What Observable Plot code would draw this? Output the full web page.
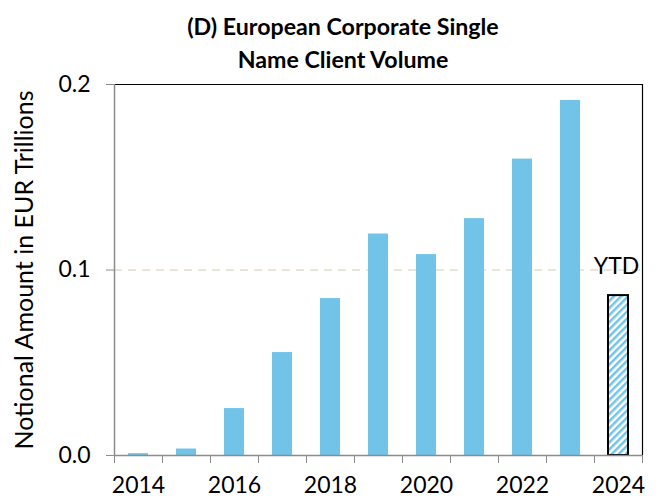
<!DOCTYPE html>
<html><head><meta charset="utf-8">
<script src="https://cdn.jsdelivr.net/npm/d3@7"></script>
<script src="https://cdn.jsdelivr.net/npm/@observablehq/plot@0.6"></script>
<style>
body{margin:0;background:#fff;font-family:Lato,sans-serif;}
#title{height:60px;width:660px;box-sizing:border-box;padding-top:10px;padding-left:26px;text-align:center;font-weight:bold;font-size:23.2px;line-height:33px;color:#000;white-space:nowrap;overflow:visible;position:relative;z-index:1;}
#chart{position:relative;}
</style></head><body>
<div id="title">(D) European Corporate Single<br>Name Client Volume</div>
<div id="chart"></div>
<script>
const years = [2014, 2015, 2016, 2017, 2018, 2019, 2020, 2021, 2022, 2023];
const volumes = [0.001, 0.0035, 0.0253, 0.0555, 0.0846, 0.1194, 0.1083, 0.1277, 0.1598, 0.1914];
const ytdYears = [2024];
const ytdVolumes = [0.0862];
const ytdLabel = "YTD";
const yTicks = [0, 0.1, 0.2];
const xLabelYears = [2014, 2016, 2018, 2020, 2022, 2024];
const yLabel = "Notional Amount in EUR Trillions";

const data = years.map((y, i) => ({year: y, value: volumes[i]}));
const ytd = ytdYears.map((y, i) => ({year: y, value: ytdVolumes[i], label: ytdLabel}));
const xBounds = d3.range(years[0], ytdYears[ytdYears.length - 1] + 2);
const barColor = "#71c4e8";
const axisGray = "#8c8c8c";

const svg = Plot.plot({
  width: 660,
  height: 444,
  marginTop: 24,
  marginLeft: 114,
  marginRight: 18,
  marginBottom: 49,
  style: {fontFamily: "Lato, sans-serif", fontSize: "23px", color: "#000", background: "transparent", overflow: "visible"},
  x: {type: "linear", domain: [xBounds[0], xBounds[xBounds.length - 1]]},
  y: {domain: [0, 0.2]},
  marks: [
    Plot.ruleY([0.1], {stroke: "#e3ddcc", strokeDasharray: "8,6", strokeWidth: 1.5}),
    Plot.rectY(data, {x: "year", interval: 1, y: "value", fill: barColor, insetLeft: 14, insetRight: 14}),
    Plot.rectY(ytd, {x: "year", interval: 1, y: "value", fill: "url(#hatch)", stroke: "#000", strokeWidth: 2, insetLeft: 14, insetRight: 14}),
    Plot.text(ytd, {x: "year", y: 0.1, text: "label", dx: 22, dy: -3, fontSize: 23, fill: "#000"}),
    Plot.ruleY([0.2], {stroke: "#000", strokeWidth: 1.2}),
    Plot.ruleX([xBounds[xBounds.length - 1]], {stroke: "#000", strokeWidth: 1.2}),
    Plot.ruleX([xBounds[0]], {stroke: axisGray, strokeWidth: 1.5}),
    Plot.ruleY([0], {stroke: axisGray, strokeWidth: 1.5}),
    Plot.axisY({ticks: yTicks, tickFormat: ".1f", tickSize: 8, tickPadding: 16, stroke: axisGray, fill: "#000", label: null}),
    Plot.axisY({ticks: [], label: yLabel, labelAnchor: "center", labelArrow: false, labelOffset: 99, fontSize: 25, fill: "#000"}),
    Plot.axisX({ticks: xBounds, tickFormat: () => "", tickSize: 8, stroke: axisGray, label: null}),
    Plot.axisX({ticks: xLabelYears, tickFormat: d => String(d), tickSize: 0, tickPadding: 21, dx: 24, label: null, fill: "#000"})
  ]
});

d3.select(svg).insert("defs", ":first-child").html(
  `<pattern id="hatch" patternUnits="userSpaceOnUse" width="5" height="5" patternTransform="rotate(45)">
     <rect width="5" height="5" fill="#fff"/><rect width="2.5" height="5" fill="${barColor}"/>
   </pattern>`);

document.getElementById("chart").appendChild(svg);
</script>
</body></html>
